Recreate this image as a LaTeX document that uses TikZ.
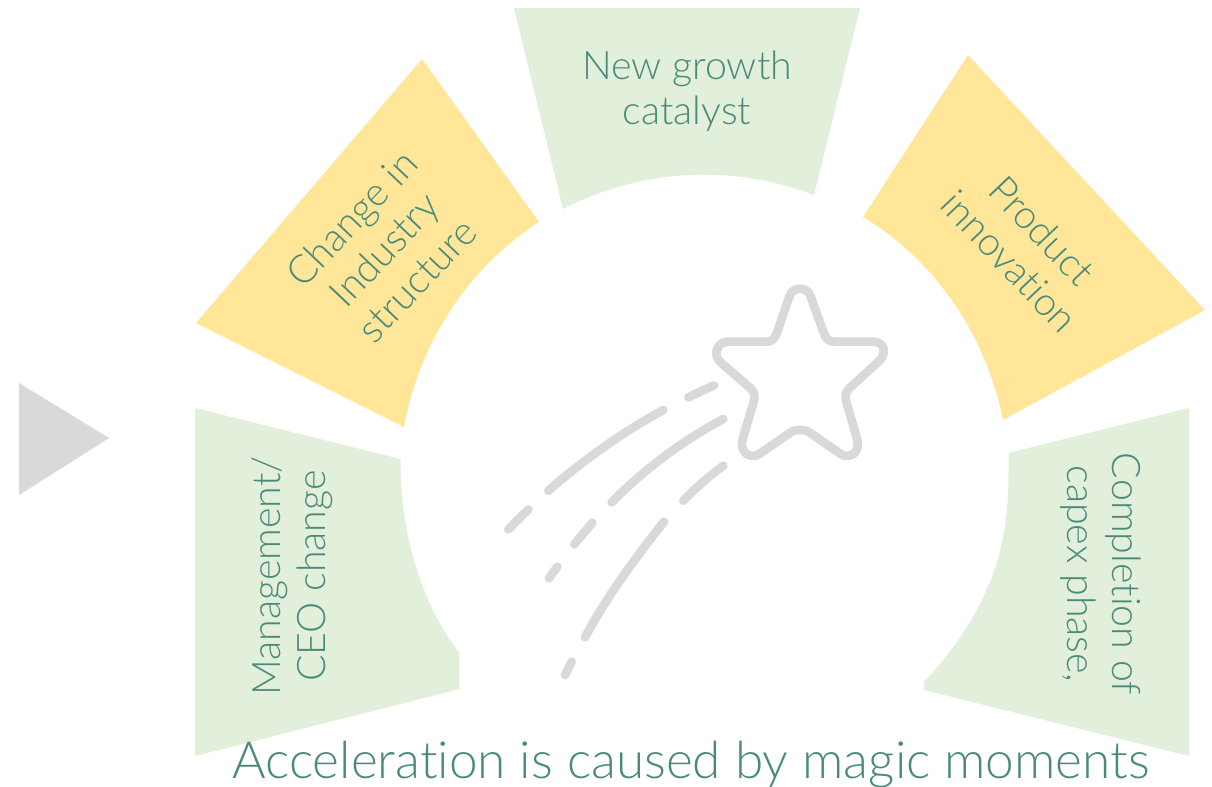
\documentclass[tikz,border=0pt]{standalone}
\usepackage{fontspec}
\setmainfont{Lato}[UprightFont=* Light,Ligatures=NoCommon]
\definecolor{teal1}{HTML}{4A8A7B}
\definecolor{gr}{HTML}{E2EFDA}
\definecolor{ye}{HTML}{FFE699}
\definecolor{gy}{HTML}{D9D9D9}
\tikzset{
  lab/.style={text=teal1,font=\fontsize{29.5}{33.75}\selectfont,align=center,inner sep=0pt},
  titlelab/.style={text=teal1,font=\fontsize{38.5}{44}\selectfont,inner sep=0pt},
  icon/.style={draw=gy,line width=6.5pt,line cap=round,line join=round}
}
\begin{document}
\begin{tikzpicture}[x=0.75pt,y=-0.75pt]
\useasboundingbox (0,0) rectangle (1212,786);
\fill[white] (0,0) rectangle (1212,786);
% sectors
\fill[gy] (19,383) -- (109,438) -- (19,495) -- cycle;
\fill[ye] (422,59) -- (539,222) .. controls (467.6,267.8) and (419,343.6) .. (404,427) -- (196,323) -- cycle;
\fill[gr] (514,8) -- (860,8) -- (814,195) .. controls (732.5,163.8) and (640.4,168.6) .. (563,209) -- cycle;
\fill[ye] (968,55) -- (1205,310) -- (1003,420) .. controls (986,336) and (936.4,261) .. (863,217) -- cycle;
\fill[gr] (195,408) -- (400.5,459) .. controls (400,515) and (412,590) .. (459.3,653) -- (459.5,689) -- (195,756) -- cycle;
\fill[gr] (1189,408) -- plot[smooth,tension=0.6] coordinates {(1008.5,453) (1008,495) (1004.3,530) (996.7,563) (985,593) (968.3,625) (945,658) (924.3,681.7)} -- (924,690) -- (1189,756) -- cycle;
% labels
\node[lab,rotate=46.5] (change) at (384,249) {Change in\\Industry\\structure};
\node[lab] (growth) at (687,91) {New growth\\catalyst};
\node[lab,rotate=-46.5] (product) at (1026,246) {Product\\innovation};
\node[lab,rotate=90] (mgmt) at (292,576) {Management/\\CEO change};
\node[lab,rotate=-90] (capex) at (1101,574) {Completion of\\capex phase,};
\node[titlelab] (title) at (691,765) {Acceleration is caused by magic moments};
% shooting star
\begin{scope}[shift={(480,270)},x=0.25pt,y=-0.25pt]
\draw[icon] (928,80) .. controls (938,48) and (982,48) .. (992,80)
 -- (1030,185) .. controls (1035,205) and (1048,215) .. (1062,215)
 -- (1178,215) .. controls (1215,215) and (1222,250) .. (1195,275)
 -- (1108,355) .. controls (1096,367) and (1095,378) .. (1098,392)
 -- (1132,510) .. controls (1142,550) and (1105,568) .. (1082,552)
 -- (985,485) .. controls (975,478) and (945,478) .. (935,485)
 -- (838,552) .. controls (815,568) and (778,550) .. (787,510)
 -- (822,392) .. controls (825,378) and (824,367) .. (812,355)
 -- (725,280) .. controls (695,255) and (710,215) .. (745,215)
 -- (860,215) .. controls (875,215) and (887,205) .. (892,185) -- cycle;
\draw[icon] (85,778) -- (145,718);
\draw[icon] (205,662) .. controls (310,570) and (430,485) .. (550,420);
\draw[icon] (625,382) -- (702,346);
\draw[icon] (207,925) -- (232,890);
\draw[icon] (283,823) -- (337,758);
\draw[icon] (395,697) .. controls (490,600) and (610,510) .. (730,447);
\draw[icon] (255,1215) -- (275,1175);
\draw[icon] (315,1102) .. controls (380,980) and (465,865) .. (552,755);
\draw[icon] (610,692) .. controls (650,650) and (690,617) .. (730,587);
\end{scope}
\end{tikzpicture}
\end{document}
